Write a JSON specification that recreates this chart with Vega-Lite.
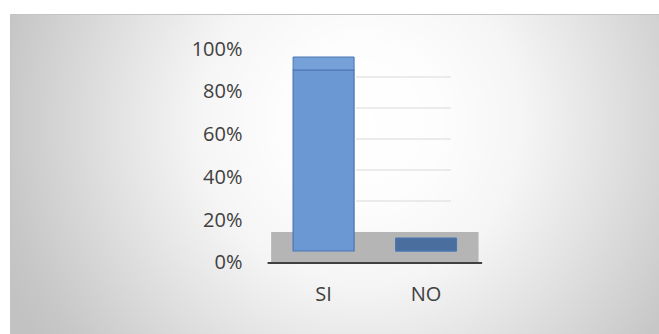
{
  "$schema": "https://vega.github.io/schema/vega-lite/v6.json",
  "width": 649,
  "height": 320,
  "autosize": {"type": "none"},
  "padding": {"left": 10, "top": 14, "right": 0, "bottom": 0},
  "background": "#ffffff",
  "config": {
    "view": {
      "stroke": "#c4c4c4",
      "strokeWidth": 1,
      "fill": {
        "gradient": "radial",
        "x1": 0.54, "y1": 0.42, "r1": 0,
        "x2": 0.54, "y2": 0.42, "r2": 0.6,
        "stops": [
          {"offset": 0, "color": "#ffffff"},
          {"offset": 0.2, "color": "#fdfdfd"},
          {"offset": 0.417, "color": "#f5f5f5"},
          {"offset": 0.6, "color": "#e5e5e5"},
          {"offset": 0.92, "color": "#c7c7c7"},
          {"offset": 1, "color": "#c2c2c2"}
        ]
      }
    },
    "font": "Open Sans"
  },
  "datasets": {
    "answers": [
      {"answer": "SI", "value": 1},
      {"answer": "NO", "value": 0}
    ],
    "grid": [
      {"level": 0.2},
      {"level": 0.4},
      {"level": 0.6},
      {"level": 0.8},
      {"level": 1}
    ]
  },
  "resolve": {"scale": {"y": "independent"}, "axis": {"y": "independent"}},
  "layer": [
    {
      "data": {"name": "answers"},
      "mark": {"type": "bar", "color": "#b5b5b5", "width": {"band": 1.72}},
      "encoding": {
        "x": {
          "field": "answer",
          "type": "nominal",
          "sort": null,
          "scale": {"domain": ["SI", "NO"], "range": [283.1, 446.6], "paddingInner": 0.405, "paddingOuter": 0, "align": 0.5},
          "axis": {
            "title": null,
            "labelAngle": 0,
            "domain": false,
            "ticks": false,
            "grid": false,
            "labelFont": "Open Sans",
            "labelFontSize": 20,
            "labelColor": "#404040",
            "offset": -40,
            "labelPadding": 0,
            "labelBaseline": "middle"
          }
        },
        "y": {
          "datum": 0.145,
          "type": "quantitative",
          "scale": {"domain": [-0.3318, 1.1636], "nice": false, "zero": false},
          "axis": {
            "title": null,
            "values": [0, 0.2, 0.4, 0.6, 0.8, 1],
            "format": ".0%",
            "grid": false,
            "domain": false,
            "ticks": false,
            "tickSize": 0,
            "labelFont": "Open Sans",
            "labelFontSize": 20,
            "labelColor": "#404040",
            "labelOverlap": false,
            "labelBound": false,
            "labelFlush": false,
            "offset": -232,
            "labelPadding": 0
          }
        },
        "y2": {"datum": 0}
      }
    },
    {
      "data": {"name": "answers"},
      "mark": {"type": "tick", "color": "#404040", "size": 112, "thickness": 2, "opacity": 1},
      "encoding": {
        "x": {"field": "answer", "type": "nominal", "sort": null},
        "y": {
          "datum": 0,
          "type": "quantitative",
          "scale": {"domain": [-0.3318, 1.1636], "nice": false, "zero": false},
          "axis": null
        }
      }
    },
    {
      "data": {"name": "grid"},
      "mark": {"type": "tick", "color": "#dadada", "size": 95, "thickness": 1, "xOffset": -22.6, "opacity": 1},
      "encoding": {
        "x": {"datum": "NO", "type": "nominal"},
        "y": {
          "field": "level",
          "type": "quantitative",
          "scale": {"domain": [-0.658, 1.4065], "nice": false, "zero": false},
          "axis": null
        }
      }
    },
    {
      "data": {"name": "answers"},
      "mark": {"type": "bar", "color": "#6b97d3", "stroke": "#4a76b5", "strokeWidth": 1.2},
      "encoding": {
        "x": {"field": "answer", "type": "nominal", "sort": null},
        "y": {
          "field": "value",
          "type": "quantitative",
          "scale": {"domain": [-0.4586, 1.3094], "nice": false, "zero": false},
          "axis": null
        },
        "y2": {"datum": 0}
      }
    },
    {
      "data": {"name": "answers"},
      "mark": {"type": "tick", "size": 61, "thickness": 13, "yOffset": -6.5, "opacity": 1, "stroke": "#4a76b5", "strokeWidth": 1},
      "encoding": {
        "x": {"field": "answer", "type": "nominal", "sort": null},
        "y": {
          "field": "value",
          "type": "quantitative",
          "scale": {"domain": [-0.4586, 1.3094], "nice": false, "zero": false},
          "axis": null
        },
        "color": {
          "condition": {"test": "datum.answer === 'NO'", "value": "#4a6f9f"},
          "value": "#76a0d8"
        }
      }
    }
  ]
}
